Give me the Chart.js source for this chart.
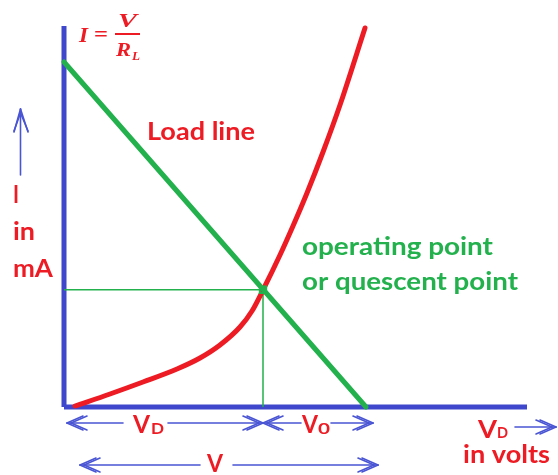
<!DOCTYPE html>
<html><head><meta charset="utf-8">
<script src="https://cdn.jsdelivr.net/npm/chart.js@4"></script>
<style>html,body{margin:0;padding:0;background:#fff}canvas{display:block}</style>
</head><body><canvas id="c" width="558" height="475"></canvas>
<script>
// Diode characteristic (V_D in volts, I in mA) - arbitrary units
const diodeV = [0.22, 0.92, 1.58, 2.26, 2.72, 3.12, 3.52, 3.76, 3.98, 4.32, 4.58, 4.86, 5.18, 5.52, 6.02];
const diodeI = [0.025, 0.325, 0.625, 0.95, 1.225, 1.55, 2.0, 2.4, 2.925, 3.8, 4.525, 5.35, 6.375, 7.55, 9.475];
// Load line: I = V/R_L at V_D = 0, and V_D = V at I = 0
const loadV = [0, 6.04];
const loadI = [8.625, 0];
// Operating (quiescent) point
const qV = 3.98;
const qI = 2.93;
// Axis extents
const axisXEnd = 9.26;
const axisYEnd = 9.525;

const pts = (xs, ys) => xs.map((x, i) => ({x: x, y: ys[i]}));
const BLUE = '#3f48cc', GREEN = '#22b14c', RED = '#ed1c24', ARROW = '#4a55d4';

const labels = {
  id: 'labels',
  afterDatasetsDraw(chart) {
    const ctx = chart.ctx;
    ctx.save();
    function fit(text, x, base, w, font, color) {
      ctx.font = font;
      ctx.fillStyle = color;
      ctx.textBaseline = 'alphabetic';
      ctx.textAlign = 'left';
      const m = ctx.measureText(text).width;
      ctx.save();
      ctx.translate(x, base);
      ctx.scale(w / m, 1);
      ctx.fillText(text, 0, 0);
      ctx.restore();
    }
    const SANS = 'bold 25px Lato';
    // formula
    fit('I', 79, 42, 9, 'italic bold 21px "Liberation Serif"', RED);
    fit('=', 94, 41, 14, 'bold 20px "Liberation Serif"', RED);
    fit('V', 118, 27, 19, 'italic bold 19px "Liberation Serif"', RED);
    ctx.fillStyle = RED; ctx.fillRect(115, 33, 25, 2);
    fit('R', 116, 56, 15, 'italic bold 18px "Liberation Serif"', RED);
    fit('L', 132, 60, 8, 'italic bold 12px "Liberation Serif"', RED);
    // texts
    fit('Load line', 147, 140, 108, SANS, RED);
    fit('I', 13, 203, 6, SANS, RED);
    fit('in', 13, 240, 22, SANS, RED);
    fit('mA', 13, 277, 40, SANS, RED);
    fit('operating point', 302, 255, 191, SANS, GREEN);
    fit('or quescent point', 302, 290, 216, SANS, GREEN);
    fit('V', 133, 433, 17, SANS, RED);
    fit('D', 151, 434, 13, 'bold 16px Lato', RED);
    fit('V', 302, 433, 16, SANS, RED);
    fit('0', 318, 434, 12, 'bold 16px Lato', RED);
    fit('V', 207, 472, 16, SANS, RED);
    fit('V', 478, 438, 19, SANS, RED);
    fit('D', 497, 438, 11, 'bold 16px Lato', RED);
    fit('in volts', 463, 463, 87, SANS, RED);

    // arrows
    ctx.strokeStyle = ARROW;
    ctx.lineWidth = 1.6;
    ctx.lineCap = 'round';
    function line(x1, y1, x2, y2) { ctx.beginPath(); ctx.moveTo(x1, y1); ctx.lineTo(x2, y2); ctx.stroke(); }
    function head(x, y, dir) { // dir: -1 left, 1 right
      for (const off of [0, 4]) {
        const tx = x - dir * off;
        line(tx, y, tx - dir * 16, y - 7);
        line(tx, y, tx - dir * 16, y + 7);
      }
    }
    // row 1
    line(67, 423, 123, 423); head(67, 423, -1);
    line(168, 423, 263, 423); head(263, 423, 1);
    line(263, 423, 301, 423); head(263, 423, -1);
    line(331, 423, 373, 423); head(373, 423, 1);
    // row 2
    line(80, 465, 200, 465); head(80, 465, -1);
    line(233, 465, 378, 465); head(378, 465, 1);
    // right V_D arrow
    line(515, 427, 556, 427); head(556, 427, 1);
    // up arrow
    line(20.5, 175, 20.5, 109);
    line(20.5, 109, 14, 132); line(20.5, 109, 28, 132);
    line(20.5, 113, 14, 131); line(20.5, 113, 28, 131);
    ctx.restore();
  }
};

new Chart(document.getElementById('c'), {
  type: 'scatter',
  data: {
    datasets: [
      { label: 'Q', data: [{x: qV, y: qI}], pointStyle: 'rect', pointRadius: 4.5,
        backgroundColor: 'rgba(34,177,76,0.3)', borderColor: GREEN, borderWidth: 2, order: 0 },
      { label: 'load', data: pts(loadV, loadI), showLine: true, borderColor: GREEN, borderWidth: 5,
        pointRadius: 0, borderCapStyle: 'round', order: 1 },
      { label: 'diode', data: pts(diodeV, diodeI), showLine: true, borderColor: RED, borderWidth: 5,
        pointRadius: 0, cubicInterpolationMode: 'monotone', borderCapStyle: 'round', order: 2 },
      { label: 'qh', data: [{x: 0, y: qI}, {x: qV, y: qI}], showLine: true, borderColor: GREEN, borderWidth: 1.5,
        pointRadius: 0, order: 3 },
      { label: 'qv', data: [{x: qV, y: qI}, {x: qV, y: 0}], showLine: true, borderColor: GREEN, borderWidth: 1.5,
        pointRadius: 0, order: 3 },
      { label: 'xaxis', data: [{x: 0, y: 0}, {x: axisXEnd, y: 0}], showLine: true, borderColor: BLUE, borderWidth: 5,
        pointRadius: 0, order: 4 },
      { label: 'yaxis', data: [{x: 0, y: 0}, {x: 0, y: axisYEnd}], showLine: true, borderColor: BLUE, borderWidth: 5,
        pointRadius: 0, order: 4 }
    ]
  },
  options: {
    responsive: false,
    animation: false,
    devicePixelRatio: 1,
    layout: { padding: 0, autoPadding: false },
    plugins: { legend: { display: false }, tooltip: { enabled: false } },
    scales: {
      x: { type: 'linear', display: false, min: -1.28, max: 9.88 },
      y: { type: 'linear', display: false, min: -1.7, max: 10.175 }
    }
  },
  plugins: [labels]
});
</script></body></html>
